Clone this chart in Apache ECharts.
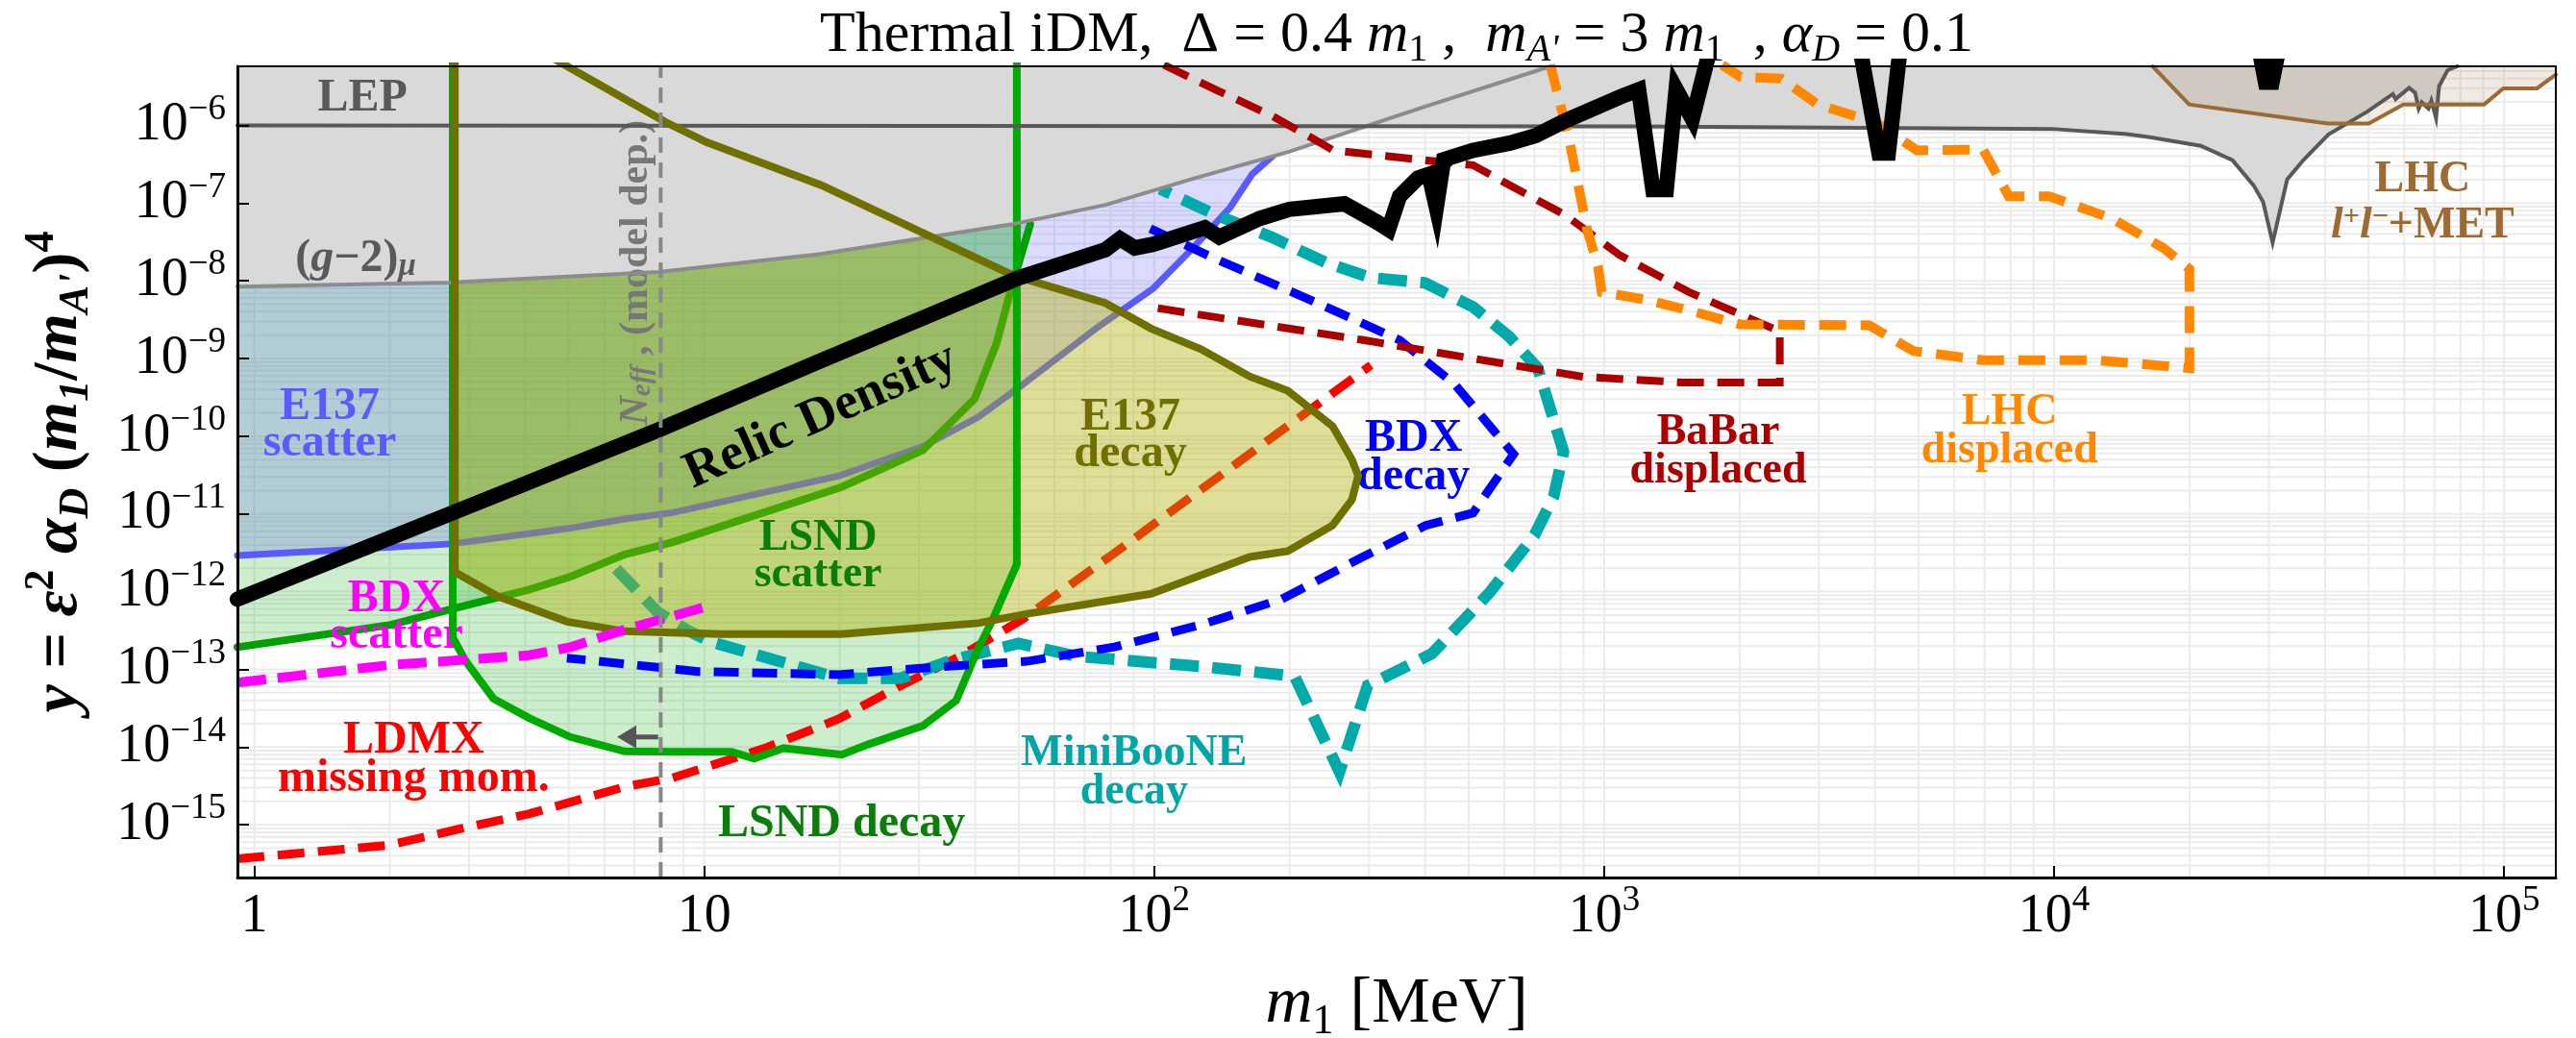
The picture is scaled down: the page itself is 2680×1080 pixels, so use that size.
<!DOCTYPE html>
<html><head><meta charset="utf-8">
<script src="https://cdn.jsdelivr.net/npm/echarts@6/dist/echarts.min.js"></script>
<style>html,body{margin:0;padding:0;background:#fff}#c{width:2680px;height:1080px}</style>
</head><body><div id="c"></div>
<script>
const SERIF = "'Liberation Serif','DejaVu Serif',serif";
// axis ranges (MeV, y)
const X_RANGE = [0.917, 1.303e5];
const Y_RANGE = [2.1e-16, 5.75e-6];
const xTicks = [1, 10, 100, 1000, 10000, 100000];
const yTicks = [1e-15, 1e-14, 1e-13, 1e-12, 1e-11, 1e-10, 1e-9, 1e-8, 1e-7, 1e-6];

// ---- data ----
const lepBound = [[0.917,1.0e-6],[1162,9.7e-7],[9890,9.0e-7],[14490,7.7e-7],[16320,7.05e-7],[21180,5.45e-7],[24910,3.56e-7],[27750,1.69e-7],[29130,1.04e-7],[30590,3.1e-8],[32950,2.01e-7],[35800,3.58e-7],[40710,7.67e-7],[49560,1.49e-6],[56600,2.52e-6],[57400,2.18e-6],[61500,3.04e-6],[63400,2.64e-6],[64600,1.64e-6],[65600,1.98e-6],[67900,1.64e-6],[68900,2.08e-6],[70600,1.24e-6],[71700,3.19e-6],[74900,5.13e-6],[78700,5.75e-6]];
const g2Bound = [[0.917,8.4e-9],[2.7,9.5e-9],[7.9,1.3e-8],[18,2.2e-8],[48,5.3e-8],[78,9.5e-8],[120,2.0e-7],[200,4.6e-7],[400,1.75e-6],[760,5.75e-6]];
const lhcMetBound = [[16550,5.75e-6],[19950,1.86e-6],[40510,1.06e-6],[50030,1.06e-6],[59700,1.86e-6],[90280,1.86e-6],[99600,2.99e-6],[118300,2.99e-6],[130300,4.5e-6]];
const e137ScatterBound = [[0.917,2.91e-12],[2.75,4.12e-12],[4.95,6.46e-12],[6.65,8.6e-12],[8.51,1.04e-11],[19.9,3.08e-11],[30.6,7.38e-11],[40.6,1.76e-10],[50,4.23e-10],[74.1,2.42e-9],[99.5,7.98e-9],[122,2.65e-8],[147.5,8.8e-8],[165,2.34e-7],[184,4.1e-7]];
const lsndScatterBound = [[0.917,1.93e-13],[2.01,3.74e-13],[2.94,6.6e-13],[4.07,1.06e-12],[5.04,1.56e-12],[6.66,3.02e-12],[8.51,4.34e-12],[20.2,2.22e-11],[30.6,6.6e-11],[39.9,3.05e-10],[44.6,1.56e-9],[48.1,8.0e-9],[53,5.3e-8]];
const lsndDecayBound = [[2.76,1e-5],[2.76,2.58e-13],[2.94,1.31e-13],[3.40,4.2e-14],[4.07,2.38e-14],[5.04,1.35e-14],[6.66,8.8e-15],[8.5,8.7e-15],[11.5,8.7e-15],[12.9,7.1e-15],[15.0,9.7e-15],[20.2,8.0e-15],[23.1,1.08e-14],[30.6,1.88e-14],[36.3,3.98e-14],[40.6,1.84e-13],[43.8,4.44e-13],[49.5,2.25e-12],[49.5,1e-5]];
const e137DecayBound = [[2.79,1e-5],[2.79,1.79e-12],[3.46,8.8e-13],[4.96,4.11e-13],[6.66,3.09e-13],[10.9,2.84e-13],[20.2,2.84e-13],[40.6,3.93e-13],[51.9,5.16e-13],[98.4,9.4e-13],[127,1.63e-12],[163,2.8e-12],[198,3.33e-12],[249,7.1e-12],[275,1.52e-11],[284,3.1e-11],[275,4.99e-11],[249,1.35e-10],[198,3.84e-10],[163,5.87e-10],[127,1.32e-9],[98.4,2.43e-9],[77.8,5.19e-9],[48.8,1.16e-8],[18.2,1.7e-7],[10.1,6.1e-7],[8.2,1.1e-6],[4.19,1e-5]];
const relicDensity = [[0.917,8.0e-13],[4.02,2.48e-11],[7.87,1.19e-10],[18.2,9.4e-10],[50.0,1.09e-8],[77.9,2.51e-8],[83.9,3.47e-8],[90.5,2.65e-8],[99.5,2.95e-8],[129.5,4.82e-8],[139.5,3.66e-8],[171.6,6.34e-8],[199.5,8.3e-8],[264.6,9.8e-8],[313,5.67e-8],[331.6,4.57e-8],[350.8,1.22e-7],[385.5,2.1e-7],[407.8,2.34e-7],[423.6,8.8e-8],[439.8,3.62e-7],[511,4.77e-7],[617,5.91e-7],[704,7.38e-7],[818,1.14e-6],[1085,2.32e-6],[1193,2.88e-6],[1283,1.49e-7],[1374,1.49e-7],[1445,2.92e-6],[1570,1.21e-6],[1722,1e-5],[3700,1e-5],[4080,4.4e-7],[4280,4.4e-7],[4550,1e-5],[28500,1e-5],[29500,3.6e-6],[30500,3.6e-6],[31600,1e-5],[130300,1e-5]];
const bdxScatter = [[0.917,6.76e-14],[2.01,1.14e-13],[4.07,1.52e-13],[5.04,1.93e-13],[6.6,3.2e-13],[10.1,6.4e-13]];
const ldmx = [[0.917,3.65e-16],[2.0,5.5e-16],[2.94,9.2e-16],[4.07,1.38e-15],[6.66,3.09e-15],[8.51,4.03e-15],[13.6,9.64e-15],[19.9,2.31e-14],[27.3,6.17e-14],[37.0,1.47e-13],[50.9,4.4e-13],[81.5,3.13e-12],[163,5.94e-11],[303,8.2e-10]];
const bdxDecay = [[98,4.7e-8],[137,1.91e-8],[241,4.62e-9],[351,1.73e-9],[465,4.69e-10],[562,1.27e-10],[629,5.89e-11],[511,1.03e-11],[401,7.1e-12],[289,2.75e-12],[192,8.0e-13],[127,3.75e-13],[81.5,1.94e-13],[52.1,1.27e-13],[31.8,1.06e-13],[19.9,8.55e-14],[9.7,9.4e-14],[4.95,1.4e-13]];
const miniBooNE = [[6.37,1.97e-12],[7.87,5.5e-13],[9.2,3.15e-13],[10.3,2.28e-13],[19.9,7.7e-14],[27.3,7.7e-14],[35.6,1.32e-13],[49.9,2.16e-13],[67.5,1.47e-13],[127,1.09e-13],[205,8.2e-14],[258,4.8e-15],[298,6.2e-14],[414,1.59e-13],[556,9.7e-13],[700,5.35e-12],[772,1.67e-11],[812,6.3e-11],[712,7.5e-10],[614,1.93e-9],[511,4.62e-9],[400,9.4e-9],[302,1.1e-8],[241,1.71e-8],[182,3.66e-8],[137,7.06e-8],[103,1.52e-7]];
const babar = [[105,6e-6],[137,2.88e-6],[182,1.34e-6],[223,6.98e-7],[250,4.76e-7],[424,3.43e-7],[511,3.08e-7],[617,1.69e-7],[818,7.06e-8],[1084,2.13e-8],[1543,7.16e-9],[2456,2.23e-9],[2456,4.92e-10],[1488,4.92e-10],[899,5.82e-10],[511,1.0e-9],[291,1.73e-9],[97.5,4.62e-9]];
const lhcDisplaced = [[759,6e-6],[834,6.98e-7],[916,4.57e-8],[969,1.53e-8],[987,7.16e-9],[1231,5.75e-9],[1543,4.15e-9],[2008,2.74e-9],[3880,2.68e-9],[4864,1.25e-9],[6954,9.5e-10],[12460,9.5e-10],[18540,7.8e-10],[19980,7.5e-10],[19980,1.42e-8],[17480,2.65e-8],[13430,6.34e-8],[9750,1.22e-7],[7930,1.22e-7],[6950,4.89e-7],[4955,4.77e-7],[4027,1.08e-6],[2981,1.86e-6],[2472,4.0e-6],[2009,4.2e-6],[1828,6e-6]];
const neffLine = [[8,2.1e-16],[8,5.75e-6]];
const neffArrow = [[7.9,1.35e-14],[6.4,1.35e-14]];

// ---- helpers ----
function lineS(data, color, width, z, dash, extra) {
  return Object.assign({ type:'line', data, z, showSymbol:false, symbol:'none', silent:true, animation:false, clip:true,
    lineStyle:{ color, width, type: dash || 'solid', cap: dash ? 'butt' : 'round', join:'miter' } }, extra || {});
}
function areaTopS(data, fill, z) {
  return { type:'line', data, z, showSymbol:false, symbol:'none', silent:true, animation:false, clip:true,
    lineStyle:{ width:0, opacity:0 }, areaStyle:{ color: fill, opacity:1, origin:'end' } };
}
function polyS(pts, fill, z) {
  return { type:'custom', z, clip:true, silent:true, animation:false, data:[[10,1e-10]],
    renderItem:(p, api) => ({ type:'polygon', shape:{ points: pts.map(q => api.coord(q)) }, style:{ fill } }) };
}
function fmtPow(v) {
  const e = Math.round(Math.log10(v));
  if (e === 0) return '{b|1}';
  if (e === 1) return '{b|10}';
  return '{b|10}{e|' + (e < 0 ? '\u2212' : '') + Math.abs(e) + '}';
}
const labelRich = {
  b:{ fontSize:56, lineHeight:70, fontFamily:SERIF, color:'#000' },
  e:{ fontSize:37, lineHeight:40, verticalAlign:'top', fontFamily:SERIF, color:'#000' }
};

// grid-line positions (1..9 x decades)
const gridX = [], gridY = [];
for (let k = 0; k <= 5; k++) for (let m = 1; m <= 9; m++) { const v = m * Math.pow(10, k); if (v > X_RANGE[0] && v < X_RANGE[1]) gridX.push(v); }
for (let k = -16; k <= -6; k++) for (let m = 1; m <= 9; m++) { const v = m * Math.pow(10, k); if (v > Y_RANGE[0] && v < Y_RANGE[1]) gridY.push(v); }

const notes = [
  { text:'LEP', at:[1.74,2.18e-6], color:'#595959', size:48 },
  { text:'({i|g}\u22122){sb|\u03bc}', at:[1.68,1.89e-8], color:'#595959', size:48 },
  { text:'E137\nscatter', at:[1.47,1.36e-10], color:'#5a5aff', size:48, lh:38 },
  { text:'Relic Density', at:[18.16,1.8e-10], color:'#000', size:54, rot:24 },
  { text:'E137\ndecay', at:[88.5,1.0e-10], color:'#707000', size:48, lh:38 },
  { text:'LSND\nscatter', at:[17.9,2.83e-12], color:'#0a7d0a', size:46, lh:38 },
  { text:'BDX\nscatter', at:[2.07,4.7e-13], color:'#ff00ff', size:48, lh:38 },
  { text:'LDMX\nmissing mom.', at:[2.26,6.95e-15], color:'#ff0000', size:48, lh:40 },
  { text:'LSND decay', at:[20.2,1.03e-15], color:'#0a7d0a', size:48 },
  { text:'MiniBooNE\ndecay', at:[90.2,4.66e-15], color:'#00a6a6', size:46, lh:40 },
  { text:'BDX\ndecay', at:[377,5.3e-11], color:'#0000ff', size:48, lh:40 },
  { text:'BaBar\ndisplaced', at:[1792,6.3e-11], color:'#aa0000', size:46, lh:40 },
  { text:'LHC\ndisplaced', at:[7960,1.15e-10], color:'#ff8800', size:46, lh:40 },
  { text:'LHC\n{i|l}{sp|+}{i|l}{sp|\u2212}+MET', at:[65900,1.01e-7], color:'#9c6a33', size:46, lh:48 },
  { text:'{i|N}{sb|eff} , (model dep.)', at:[7.07,1.27e-8], color:'#777777', size:42, rot:90 }
];

const chart = echarts.init(document.getElementById('c'), null, { renderer:'canvas' });
const series = [
  // light grid lines (drawn through the axis scales)
  { type:'custom', z:1, clip:true, silent:true, animation:false, data:[[10,1e-10]],
    renderItem:(p, api) => {
      const ch = [];
      gridX.forEach(v => { const a = api.coord([v, Y_RANGE[0]]), b = api.coord([v, Y_RANGE[1]]);
        ch.push({ type:'line', shape:{ x1:a[0], y1:a[1], x2:b[0], y2:b[1] }, style:{ stroke:'#ebebeb', lineWidth:2 } }); });
      gridY.forEach(v => { const a = api.coord([X_RANGE[0], v]), b = api.coord([X_RANGE[1], v]);
        ch.push({ type:'line', shape:{ x1:a[0], y1:a[1], x2:b[0], y2:b[1] }, style:{ stroke:'#ebebeb', lineWidth:2 } }); });
      return { type:'group', children:ch };
    } },
  // translucent regions
  areaTopS(lsndScatterBound, 'rgba(0,170,0,0.2)', 2),
  areaTopS(e137ScatterBound, 'rgba(90,90,255,0.22)', 2),
  polyS(lsndDecayBound, 'rgba(0,170,0,0.2)', 2),
  // lines beneath E137 decay fill
  lineS(e137ScatterBound, '#5a5aff', 7, 3),
  lineS(lsndScatterBound, '#00a000', 8, 3),
  lineS(ldmx, '#ff0000', 9, 3, [28,14]),
  lineS(miniBooNE, '#00aaaa', 12, 3, [30,14]),
  polyS(e137DecayBound, 'rgba(176,176,0,0.4)', 4),
  // opaque gray excluded regions
  areaTopS(g2Bound, '#d9d9d9', 5),
  areaTopS(lepBound, '#d9d9d9', 5),
  areaTopS(lhcMetBound, 'rgba(156,106,56,0.14)', 6),
  // outlines
  lineS(lsndDecayBound, '#00aa00', 8, 7),
  lineS(e137DecayBound, '#707000', 8, 8),
  lineS(g2Bound, '#8c8c8c', 4, 7),
  lineS(lepBound, '#595959', 4, 7),
  lineS(lhcMetBound, '#9c6a33', 4, 7),
  // dashed projections
  lineS(bdxScatter, '#ff00ff', 10, 9, [30,12]),
  lineS(bdxDecay, '#0000ff', 9, 9, [26,14]),
  lineS(babar, '#aa0000', 8, 9, [28,14]),
  lineS(lhcDisplaced, '#ff8800', 10, 9, [28,15]),
  // relic target
  lineS(relicDensity, '#000000', 16, 10, null),
  // Neff
  lineS(neffLine, '#888888', 4, 11, [16,10]),
  { type:'custom', z:11, clip:true, silent:true, animation:false, data:[[7,1e-14]],
    renderItem:(p, api) => {
      const a = api.coord(neffArrow[0]), b = api.coord(neffArrow[1]); const hs = 20;
      return { type:'group', children:[
        { type:'line', shape:{ x1:a[0], y1:a[1], x2:b[0] + hs*0.8, y2:b[1] }, style:{ stroke:'#555', lineWidth:5 } },
        { type:'polygon', shape:{ points:[[b[0],b[1]],[b[0]+hs,b[1]-hs*0.6],[b[0]+hs,b[1]+hs*0.6]] }, style:{ fill:'#555' } }
      ]};
    } },
  // annotations
  { type:'custom', z:6, clip:false, silent:true, animation:false, data: notes.map(n => n.at),
    renderItem:(p, api) => {
      const n = notes[p.dataIndex]; const c = api.coord(n.at);
      const s = n.size;
      return { type:'text', x:c[0], y:c[1], rotation:(n.rot || 0) * Math.PI / 180,
        style:{ text:n.text, fill:n.color, fontFamily:SERIF, fontWeight:'bold', fontSize:s, lineHeight:n.lh || s,
          align:'center', verticalAlign:'middle',
          rich:{
            i:{ fontStyle:'italic', fontWeight:'bold', fontSize:s, lineHeight:n.lh || s, fontFamily:SERIF, fill:n.color, color:n.color },
            sb:{ fontStyle:'italic', fontWeight:'bold', fontSize:Math.round(s*0.68), lineHeight:Math.round(s*0.6), verticalAlign:'bottom', fontFamily:SERIF, fill:n.color, color:n.color },
            sp:{ fontWeight:'bold', fontSize:Math.round(s*0.65), lineHeight:Math.round(s*0.65), verticalAlign:'top', fontFamily:SERIF, fill:n.color, color:n.color }
          } } };
    } }
];

const option = {
  animation:false,
  backgroundColor:'#ffffff',
  title:{ text:'Thermal iDM,  \u0394 = 0.4 {i|m}{s|1} ,  {i|m}{si|A\'} = 3 {i|m}{s|1}  , {i|\u03b1}{si|D} = 0.1',
    left:1453, top:2, padding:0, textAlign:'center',
    textStyle:{ fontFamily:SERIF, fontSize:60, fontWeight:'normal', color:'#000', lineHeight:70,
      rich:{ i:{ fontStyle:'italic', fontSize:60, lineHeight:70, fontFamily:SERIF, color:'#000' },
             s:{ fontSize:40, lineHeight:44, verticalAlign:'bottom', fontFamily:SERIF, color:'#000' },
             si:{ fontSize:40, lineHeight:44, verticalAlign:'bottom', fontStyle:'italic', fontFamily:SERIF, color:'#000' } } } },
  grid:{ left:247, right:21, top:69, bottom:167, show:false, containLabel:false, outerBoundsMode:'none' },
  xAxis:[{
    type:'log', logBase:10, min:X_RANGE[0], max:X_RANGE[1], position:'bottom', z:20,
    axisLine:{ show:true, onZero:false, lineStyle:{ color:'#000', width:3 } },
    axisTick:{ show:true, inside:true, length:12, customValues:xTicks, lineStyle:{ color:'#000', width:2 } },
    axisLabel:{ show:true, customValues:xTicks, margin:6, interval:0, hideOverlap:false, formatter:fmtPow, rich:labelRich, color:'#000', fontFamily:SERIF },
    splitLine:{ show:false }, minorTick:{ show:false }, minorSplitLine:{ show:false },
    name:'{i|m}{sb|1} [MeV]', nameLocation:'middle', nameGap:92,
    nameTextStyle:{ fontFamily:SERIF, fontSize:68, color:'#000', lineHeight:80,
      rich:{ i:{ fontStyle:'italic', fontSize:68, lineHeight:80, fontFamily:SERIF, color:'#000' },
             sb:{ fontSize:44, lineHeight:48, verticalAlign:'bottom', fontFamily:SERIF, color:'#000' } } }
  }, {
    type:'log', logBase:10, min:X_RANGE[0], max:X_RANGE[1], position:'top', z:20,
    axisLine:{ show:true, onZero:false, lineStyle:{ color:'#000', width:2 } },
    axisTick:{ show:false }, axisLabel:{ show:false }, splitLine:{ show:false }
  }],
  yAxis:[{
    type:'log', logBase:10, min:Y_RANGE[0], max:Y_RANGE[1], position:'left', z:20,
    axisLine:{ show:true, onZero:false, lineStyle:{ color:'#000', width:3 } },
    axisTick:{ show:true, inside:true, length:12, customValues:yTicks, lineStyle:{ color:'#000', width:2 } },
    axisLabel:{ show:true, customValues:yTicks, margin:12, interval:0, hideOverlap:false, formatter:fmtPow, rich:labelRich, color:'#000', fontFamily:SERIF },
    splitLine:{ show:false }, minorTick:{ show:false }, minorSplitLine:{ show:false },
    name:'{i|y} = {i|\u03b5}{sp|2} {i|\u03b1}{sb|D} ({i|m}{sb|1}/{i|m}{sb|A\'}){sp|4}', nameLocation:'middle', nameGap:145, nameRotate:90,
    nameTextStyle:{ fontFamily:SERIF, fontSize:66, fontWeight:'bold', color:'#000', lineHeight:80,
      rich:{ i:{ fontStyle:'italic', fontWeight:'bold', fontSize:66, lineHeight:80, fontFamily:SERIF, color:'#000' },
             sb:{ fontStyle:'italic', fontWeight:'bold', fontSize:44, lineHeight:46, verticalAlign:'bottom', fontFamily:SERIF, color:'#000' },
             sp:{ fontWeight:'bold', fontSize:44, lineHeight:46, verticalAlign:'top', fontFamily:SERIF, color:'#000' } } }
  }, {
    type:'log', logBase:10, min:Y_RANGE[0], max:Y_RANGE[1], position:'right', z:20,
    axisLine:{ show:true, onZero:false, lineStyle:{ color:'#000', width:2 } },
    axisTick:{ show:false }, axisLabel:{ show:false }, splitLine:{ show:false }
  }],
  series
};
chart.setOption(option);
</script>
</body></html>
